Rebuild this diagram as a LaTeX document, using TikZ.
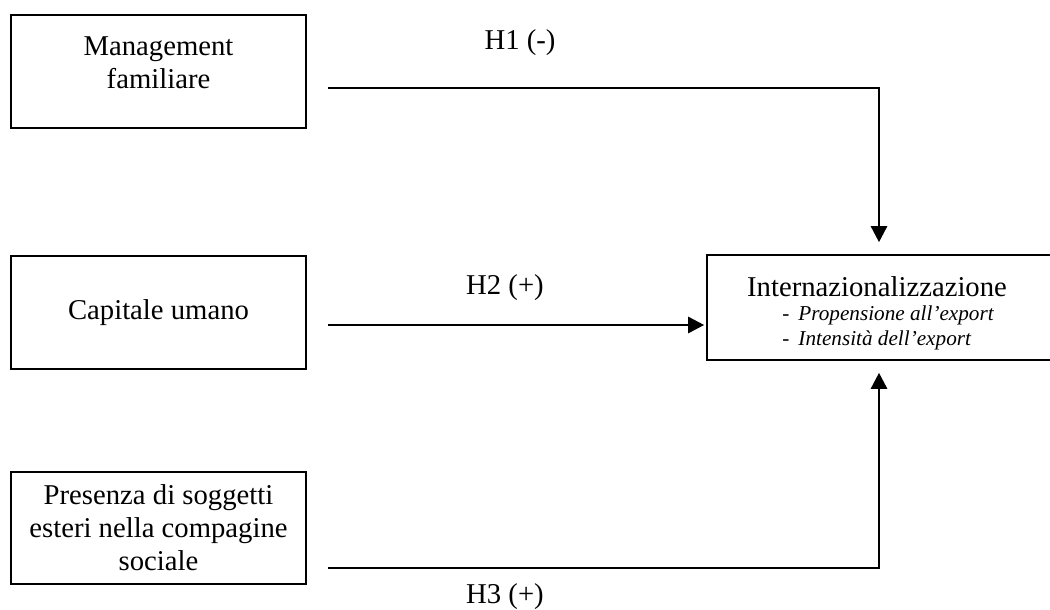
\documentclass[tikz,border=0pt]{standalone}
\usepackage{fontspec}
\setmainfont{Liberation Serif}
\usetikzlibrary{arrows.meta}

\begin{document}
\begin{tikzpicture}[x=0.5pt,y=-0.5pt,
   every node/.style={font=\fontsize{14.35}{16.5}\selectfont,inner sep=0pt},
   box/.style={draw,line width=0.8pt,minimum width=147.5pt},
   arrow/.style={line width=1.3pt,-{Triangle[length=8pt,width=8pt]}},
   items/.style={font=\fontsize{10.6}{12.6}\selectfont\itshape,align=left}]
\useasboundingbox (0,0) rectangle (1050,610);
% the three factors
\node[box,minimum height=56.5pt] (mgmt) at (158.5,71.5) {};
\node[align=center] (mgmt-text) at (158.5,62.5) {Management\\familiare};
\node[box,minimum height=56.5pt,align=center] (capitale) at (158.5,312.5) {Capitale umano};
\node[box,minimum height=56pt,align=center] (esteri) at (158.5,528) {Presenza di soggetti\\esteri nella compagine\\sociale};
% outcome
\node[draw,line width=0.8pt,minimum width=176.5pt,minimum height=52.5pt] (intl) at (883.5,307.5) {};
\node (intl-title) at (877,287) {Internazionalizzazione};
\node[items,anchor=west] (intl-items) at (782,328) {\upshape-\hspace{4.5pt}\itshape Propensione all’export\\\upshape-\hspace{4.5pt}\itshape Intensità dell’export};
% hypotheses
\coordinate (h1-start) at (328,88);
\coordinate (h2-start) at (328,325);
\coordinate (h3-start) at (328,568);
\draw[arrow] (h1-start) -| ([xshift=-2.25pt,yshift=6pt]intl.north);
\draw[arrow,shorten >=1pt] (h2-start) -- (h2-start -| intl.west);
\draw[arrow] (h3-start) -| ([xshift=-2.25pt,yshift=-6pt]intl.south);
\node (h1) at (520,43) {H1 (-)};
\node (h2) at (505,288) {H2 (+)};
\node (h3) at (505,597) {H3 (+)};
\end{tikzpicture}
\end{document}
